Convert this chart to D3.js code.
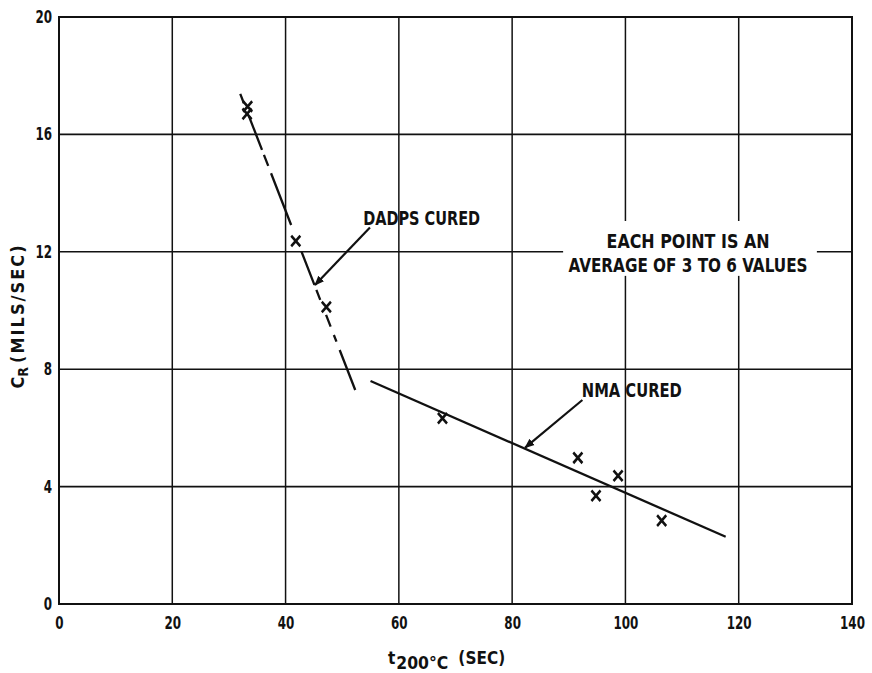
<!DOCTYPE html>
<html>
<head>
<meta charset="utf-8">
<script src="https://cdn.jsdelivr.net/npm/d3@7"></script>
<style>
  html, body { margin: 0; padding: 0; background: #fff; }
  svg { display: block; }
  text { font-family: 'DejaVu Sans Condensed', 'Liberation Sans Narrow', sans-serif; font-weight: bold; fill: #111; }
</style>
</head>
<body>
<svg id="chart" width="872" height="673"></svg>
<script>
// ---- data ----
const xTicks = [0, 20, 40, 60, 80, 100, 120, 140];
const yTicks = [0, 4, 8, 12, 16, 20];

const dadpsX = [33.3, 33.2, 41.8, 47.2];
const dadpsY = [16.95, 16.7, 12.37, 10.12];

const nmaX = [67.7, 91.6, 94.8, 98.7, 106.4];
const nmaY = [6.33, 4.98, 3.69, 4.37, 2.84];

const dadpsFitX = [32.0, 52.3];
const dadpsFitY = [17.38, 7.29];

const nmaFitX = [55.0, 117.7];
const nmaFitY = [7.6, 2.29];

const labels = ["DADPS CURED", "NMA CURED"];
const note = ["EACH POINT IS AN", "AVERAGE OF 3 TO 6 VALUES"];

// ---- layout ----
const svg = d3.select("#chart");
const x = d3.scaleLinear().domain([0, 140]).range([59, 852]);
const y = d3.scaleLinear().domain([0, 20]).range([604, 17]);
const ink = "#111";
const narrow = (sel, perChar) => sel.attr("textLength", function () { return this.textContent.length * perChar; })
  .attr("lengthAdjust", "spacingAndGlyphs");

// grid
const g = svg.append("g");
g.selectAll("line.vg").data(xTicks).join("line")
  .attr("x1", d => x(d)).attr("x2", d => x(d))
  .attr("y1", y(0)).attr("y2", y(20))
  .attr("stroke", ink).attr("stroke-width", 1.5);
g.selectAll("line.hg").data(yTicks).join("line")
  .attr("x1", x(0)).attr("x2", x(140))
  .attr("y1", d => y(d)).attr("y2", d => y(d))
  .attr("stroke", ink).attr("stroke-width", 1.6);
// frame
g.append("rect")
  .attr("x", x(0)).attr("y", y(20))
  .attr("width", x(140) - x(0)).attr("height", y(0) - y(20))
  .attr("fill", "none").attr("stroke", ink).attr("stroke-width", 2);

// axes (labels only)
const xAxis = svg.append("g").attr("transform", `translate(0,${y(0)})`)
  .call(d3.axisBottom(x).tickValues(xTicks).tickSize(0).tickPadding(13).tickFormat(d3.format("d")));
const yAxis = svg.append("g").attr("transform", `translate(${x(0)},0)`)
  .call(d3.axisLeft(y).tickValues(yTicks).tickSize(0).tickPadding(7).tickFormat(d3.format("d")));
[xAxis, yAxis].forEach(a => {
  a.select(".domain").remove();
  a.selectAll("text").style("font-size", "17px").attr("fill", ink)
   .style("font-family", "'DejaVu Sans Condensed', sans-serif").style("font-weight", "bold")
   .call(narrow, 8.3);
});

// annotation box (white, interrupts grid)
svg.append("rect")
  .attr("x", x(89.0)).attr("y", y(13.05))
  .attr("width", x(133.8) - x(89.0)).attr("height", y(11.18) - y(13.05))
  .attr("fill", "#fff");
const noteW = [163, 239];
svg.selectAll("text.note").data(note).join("text")
  .attr("class", "note")
  .attr("x", x(111.05))
  .attr("y", (d, i) => y(i === 0 ? 12.13 : 11.31))
  .attr("text-anchor", "middle")
  .style("font-size", "19px")
  .attr("textLength", (d, i) => noteW[i])
  .attr("lengthAdjust", "spacingAndGlyphs")
  .text(d => d);

// fitted lines
const line = d3.line().x(d => x(d[0])).y(d => y(d[1]));
svg.append("path")
  .attr("d", line(d3.zip(dadpsFitX, dadpsFitY)))
  .attr("fill", "none").attr("stroke", ink).attr("stroke-width", 2.3)
  .attr("stroke-dasharray", "10,14.4,35.7,5.3,11.9,7.8,55.5,28.6,35.7,5.4,10.7,16.1,12.6,8.9,7.2,8.9,43");
svg.append("path")
  .attr("d", line(d3.zip(nmaFitX, nmaFitY)))
  .attr("fill", "none").attr("stroke", ink).attr("stroke-width", 2.3);

// points
const sym = d3.symbol().type(d3.symbolTimes).size(62);
const pts = d3.zip(dadpsX, dadpsY).concat(d3.zip(nmaX, nmaY));
svg.selectAll("path.pt").data(pts).join("path")
  .attr("class", "pt")
  .attr("d", sym)
  .attr("transform", d => `translate(${x(d[0])},${y(d[1])}) scale(0.95,1.1)`)
  .attr("fill", "none").attr("stroke", ink).attr("stroke-width", 2.6);

// arrow marker
svg.append("defs").append("marker")
  .attr("id", "arr").attr("viewBox", "0 0 10 10")
  .attr("refX", 9).attr("refY", 5)
  .attr("markerWidth", 4.5).attr("markerHeight", 4.5)
  .attr("orient", "auto")
  .append("path").attr("d", "M0,1 L10,5 L0,9 Z").attr("fill", ink);

// leaders
const leaders = [
  { from: [54.9, 12.83], to: [45.2, 10.87] },
  { from: [92.4, 6.95], to: [82.3, 5.33] }
];
svg.selectAll("line.lead").data(leaders).join("line")
  .attr("x1", d => x(d.from[0])).attr("y1", d => y(d.from[1]))
  .attr("x2", d => x(d.to[0])).attr("y2", d => y(d.to[1]))
  .attr("stroke", ink).attr("stroke-width", 2.2)
  .attr("marker-end", "url(#arr)");

// curve labels
const labelPos = [[53.7, 12.91], [92.3, 7.06]];
const labelW = [117, 100];
svg.selectAll("text.lab").data(labels).join("text")
  .attr("class", "lab")
  .attr("x", (d, i) => x(labelPos[i][0]))
  .attr("y", (d, i) => y(labelPos[i][1]))
  .style("font-size", "20px")
  .attr("textLength", (d, i) => labelW[i])
  .attr("lengthAdjust", "spacingAndGlyphs")
  .text(d => d);

// axis titles
const xt = svg.append("text").attr("x", 388).attr("y", 664).style("font-size", "17px");
xt.append("tspan").text("t");
xt.append("tspan").attr("dy", 5).attr("dx", 1).attr("textLength", 52).attr("lengthAdjust", "spacingAndGlyphs").text("200°C");
xt.append("tspan").attr("dy", -5).attr("dx", 10).attr("textLength", 49).attr("lengthAdjust", "spacing").style("letter-spacing", "2px").text("(SEC)");

const yt = svg.append("text")
  .attr("transform", "translate(24,316) rotate(-90)")
  .attr("text-anchor", "middle")
  .style("font-size", "18px");
yt.append("tspan").text("C");
yt.append("tspan").attr("dy", 4).style("font-size", "14px").text("R");
yt.append("tspan").attr("dy", -4).attr("dx", 4).style("letter-spacing", "2px").text("(MILS/SEC)");
</script>
</body>
</html>
